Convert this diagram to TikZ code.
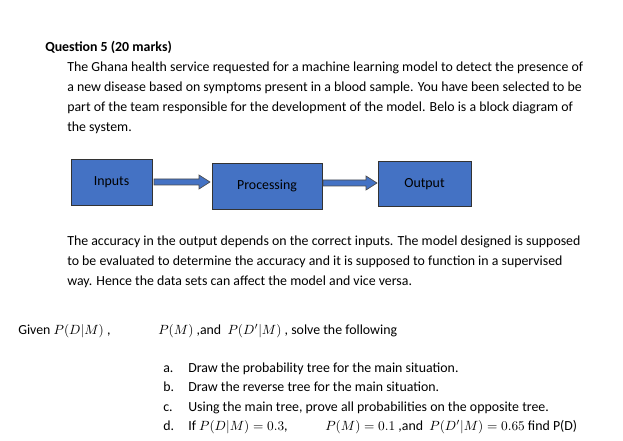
\documentclass[tikz,border=0pt]{standalone}
\usepackage{fontspec}
\setmainfont{Carlito}
\usetikzlibrary{shapes.arrows}
\begin{document}
\begin{tikzpicture}[x=0.75pt,y=-0.75pt,
  line/.style={anchor=base west,inner sep=0pt,font=\fontsize{10.4}{12}\selectfont},
  blk/.style={draw=black!80,fill=blue!55!cyan!60!black!85,fill=rgb:red,68;green,114;blue,196,line width=0.6pt},
  barrow/.style={single arrow,draw=rgb:red,47;green,82;blue,143,draw=black!70,fill=rgb:red,68;green,114;blue,196,minimum height=56\pgflinewidth,inner sep=0pt,single arrow head extend=2.5pt,minimum width=9pt,line width=0.6pt}]
\useasboundingbox (0,0) rectangle (623,441);
\definecolor{bl}{RGB}{68,114,196}
\node[line,font=\fontsize{10.4}{12}\selectfont\bfseries] (t) at (45,52) {Question 5 (20 marks)};
\node[line] (l1) at (67,72) {The Ghana health service requested for a machine learning model to detect the presence of};
\node[line] (l2) at (67,92) {a new disease based on symptoms present in a blood sample. You have been selected to be};
\node[line] (l3) at (67,112) {part of the team responsible for the development of the model. Belo is a block diagram of};
\node[line] (l4) at (67,132) {the system.};
\draw[fill=bl,draw=black!80] (71,159) rectangle (152,205);
\draw[fill=bl,draw=black!80] (212,163) rectangle (322,209);
\draw[fill=bl,draw=black!80] (378,161) rectangle (471,206);
\node[font=\fontsize{10.4}{12}\selectfont] (in) at (111.5,182) {Inputs};
\node[font=\fontsize{10.4}{12}\selectfont] (pr) at (267,186) {Processing};
\node[font=\fontsize{10.4}{12}\selectfont] (ou) at (424.5,184) {Output};
\draw[fill=bl,draw=black!70,line width=0.5pt] (154,179) -- (199,179) -- (199,175) -- (210,182) -- (199,189) -- (199,185) -- (154,185) -- cycle;
\draw[fill=bl,draw=black!70,line width=0.5pt] (323,180) -- (366,180) -- (366,176) -- (377,183) -- (366,190) -- (366,186) -- (323,186) -- cycle;
\node[line] (p1) at (67,245) {The accuracy in the output depends on the correct inputs. The model designed is supposed};
\node[line] (p2) at (67,265) {to be evaluated to determine the accuracy and it is supposed to function in a supervised};
\node[line] (p3) at (67,285) {way. Hence the data sets can affect the model and vice versa.};
\node[line] (g1) at (18,334) {Given $P(D|M)$ ,};
\node[line] (g2) at (158,334) {$P(M)$ ,and \ $P(D'|M)$ , solve the following};
\node[line] (a) at (163,372) {a.};
\node[line] (at) at (188,372) {Draw the probability tree for the main situation.};
\node[line] (b) at (163,391) {b.};
\node[line] (bt) at (188,391) {Draw the reverse tree for the main situation.};
\node[line] (c) at (163,411) {c.};
\node[line] (ct) at (188,411) {Using the main tree, prove all probabilities on the opposite tree.};
\node[line] (d) at (163,430) {d.};
\node[line] (dt) at (188,430) {If $P(D|M)=0.3$,};
\node[line] (dt2) at (325,430) {$P(M)=0.1$ ,and \ $P(D'|M)=0.65$ find P(D)};
\end{tikzpicture}
\end{document}
